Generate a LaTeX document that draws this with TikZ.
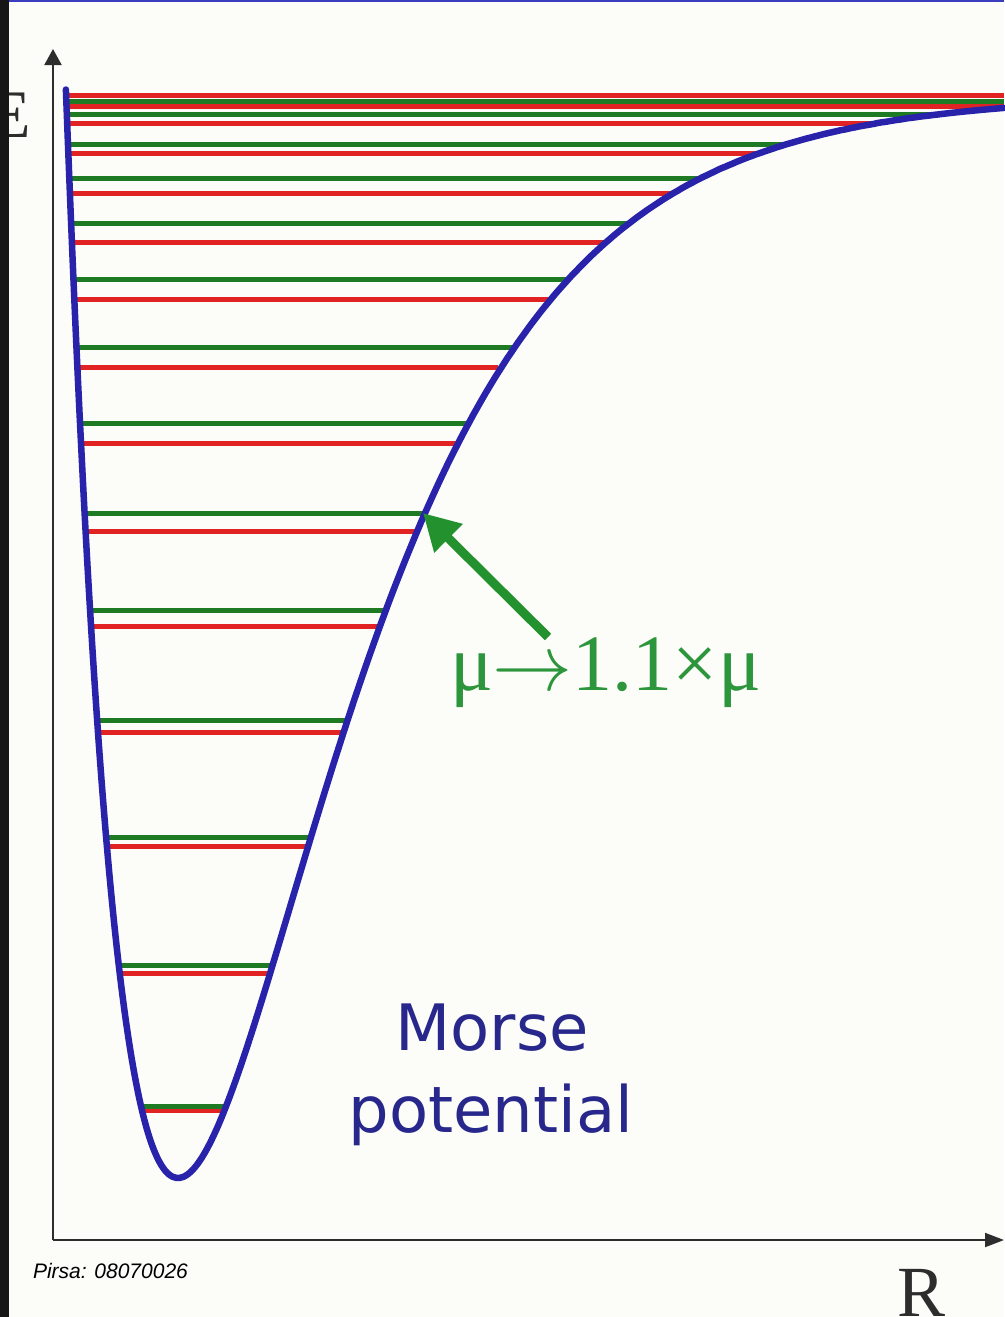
\documentclass[tikz,border=0pt]{standalone}
\usepackage{fix-cm}
\usepackage{fontspec}
\setmainfont{Liberation Serif}
\newfontfamily\verd{DejaVu Sans}
\newfontfamily\arialf{Liberation Sans}
\usetikzlibrary{arrows.meta}
\definecolor{bg}{RGB}{252,252,248}
\definecolor{strip}{RGB}{22,22,22}
\definecolor{axisgray}{RGB}{45,45,45}
\definecolor{curveblue}{RGB}{40,35,170}
\definecolor{lvlgreen}{RGB}{30,122,35}
\definecolor{lvlred}{RGB}{225,35,35}
\definecolor{lblgreen}{RGB}{45,150,60}
\definecolor{arrgreen}{RGB}{35,145,45}
\definecolor{morseblue}{RGB}{40,40,140}
\definecolor{topblue}{RGB}{60,60,190}
\tikzset{
  axisline/.style={draw=axisgray, line width=2pt},
  redlvl/.style={draw=lvlred, line width=5pt},
  greenlvl/.style={draw=lvlgreen, line width=5pt},
  morsecurve/.style={draw=curveblue, line width=6.5pt, line join=round, line cap=round},
  txt/.style={inner sep=0pt, outer sep=0pt},
}
\begin{document}
\begin{tikzpicture}[x=1pt,y=-1pt,
  declare function={mv(\t)=1178-1083*(1-exp(-0.0062*(\t-178)))*(1-exp(-0.0062*(\t-178)));}]
\path[use as bounding box, fill=bg] (0,0) rectangle (1004,1317);
% axes
\coordinate (O) at (53,1240);
\coordinate (ytop) at (53,49);
\coordinate (xend) at (1004,1240);
\draw[axisline, -{Triangle[length=16pt,width=17pt]}] (O) -- (ytop);
\draw[axisline, -{Triangle[length=19pt,width=14pt]}] (O) -- (xend);
% labels
\node[txt, anchor=base east, text=axisgray, font=\fontsize{68}{70}\selectfont] (E) at (31,137) {E};
\node[txt, anchor=base west, text=axisgray, font=\fontsize{72}{74}\selectfont] (R) at (897,1316) {R};
\node[txt, anchor=base west, text=black, font=\arialf\itshape\fontsize{21}{24}\selectfont] (pirsa) at (33,1278) {Pirsa: 08070026};
% energy levels (red: mu -> 1.1 mu)
\foreach \yy in {1110,973,846,732,626,531,443,367,299,242,193,153,123,106,95}{
  \pgfmathsetmacro\s{sqrt((1178-\yy)/1083)}
  \pgfmathsetmacro\xl{178-ln(1+\s)/0.0062}
  \pgfmathsetmacro\xr{min(1004,178-ln(max(1-\s,0.0001))/0.0062)}
  \draw[redlvl] (\xl,\yy) -- (\xr,\yy);
}
\foreach \yy in {1106,965,837,720,610,513,423,347,279,223,178,144,114,101}{
  \pgfmathsetmacro\s{sqrt((1178-\yy)/1083)}
  \pgfmathsetmacro\xl{178-ln(1+\s)/0.0062}
  \pgfmathsetmacro\xr{min(1004,178-ln(max(1-\s,0.0001))/0.0062)}
  \draw[greenlvl] (\xl,\yy) -- (\xr,\yy);
}
% Morse curve
\draw[morsecurve] plot[domain=65.9:80, samples=40, smooth] (\x,{mv(\x)})
  -- plot[domain=80:1004, samples=250, smooth] (\x,{mv(\x)});
% texts
\node[txt, anchor=base, text=morseblue, font=\verd\fontsize{64}{70}\selectfont] (m1) at (492,1050) {Morse};
\node[txt, anchor=base, text=morseblue, font=\verd\fontsize{64}{70}\selectfont] (m2) at (491,1132) {potential};
\node[txt, anchor=base west, text=lblgreen, font=\fontsize{80}{83}\selectfont] (mu) at (450,690) {μ$\rightarrow$1.1×μ};
% green arrow
\coordinate (tail) at (548,637);
\coordinate (tip) at (423,513);
\draw[draw=arrgreen, line width=9pt, -{Triangle[length=36pt,width=38pt]}] (tail) -- (tip);
% frame edges
\fill[strip] (0,0) rectangle (8.5,1317);
\fill[topblue] (8.5,0) rectangle (1004,2);
\end{tikzpicture}
\end{document}
